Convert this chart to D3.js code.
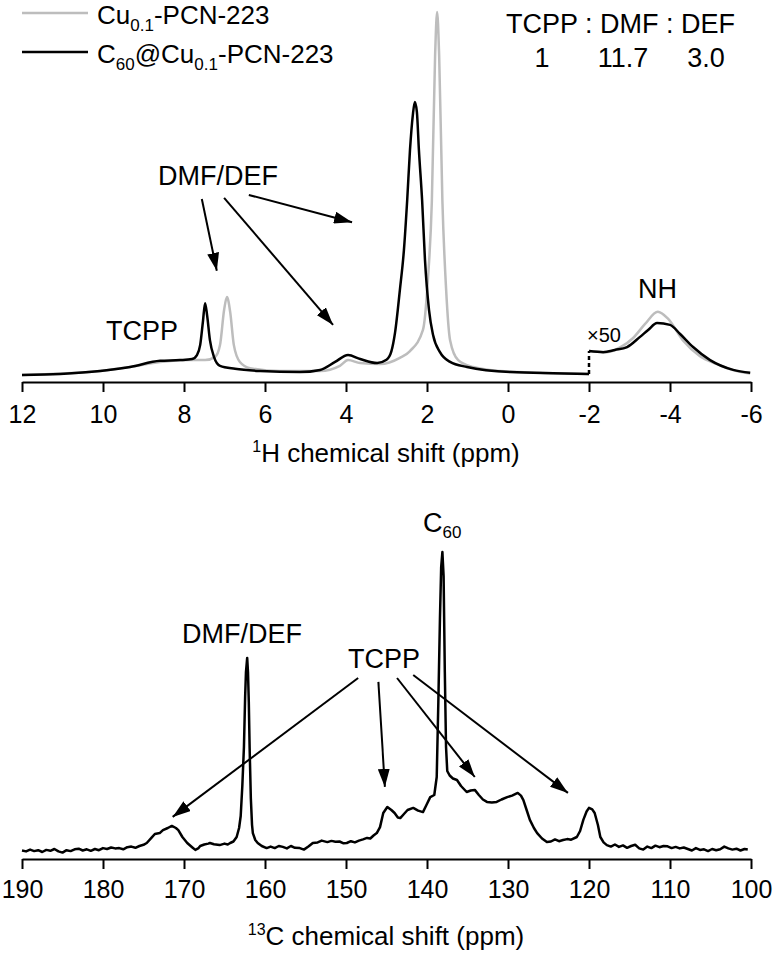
<!DOCTYPE html>
<html>
<head>
<meta charset="utf-8">
<script src="https://cdn.jsdelivr.net/npm/d3@7"></script>
<style>
  body { margin: 0; background: #fff; }
  svg { display: block; font-family: "Liberation Sans", Arial, sans-serif; }
</style>
</head>
<body>
<div id="chart"></div>
<script>
// 1H spectra, [ppm, intensity]; intensity scaled so the tallest grey peak is 100
const h1GreyMain = [
  [12.0, 0], [11.0, 0.4], [10.07, 1.1], [9.3, 2.3], [8.59, 3.6], [7.85, 4.1], [7.48, 4.1],
  [7.23, 5.0], [7.11, 8.3], [7.01, 17.9], [6.94, 21.5], [6.86, 17.4], [6.77, 8.3],
  [6.62, 3.6], [6.37, 1.9], [5.63, 1.1], [4.64, 1.1], [4.15, 2.5], [3.95, 4.1],
  [3.65, 3.3], [3.16, 3.0], [2.67, 4.7], [2.42, 6.6], [2.10, 12.4], [1.98, 26],
  [1.88, 48], [1.80, 88], [1.75, 100], [1.70, 88], [1.62, 48], [1.53, 24],
  [1.43, 9.6], [1.23, 4.1], [0.86, 2.2], [0.20, 1.1], [-0.8, 0.6], [-2.0, 0.3]
];
const h1GreyX50 = [
  [-2.0, 6.6], [-2.44, 6.3], [-2.8, 7.8], [-3.09, 10.2], [-3.38, 14.0], [-3.70, 17.4],
  [-3.95, 15.5], [-4.32, 9.5], [-4.74, 5.2], [-5.16, 3.0], [-5.6, 1.2], [-5.98, 0.4]
];
const h1BlackMain = [
  [12.0, 0], [11.06, 0.3], [10.07, 1.1], [9.33, 2.2], [8.59, 3.9], [8.10, 4.1],
  [7.80, 4.4], [7.68, 5.5], [7.60, 8.3], [7.53, 15], [7.48, 19.8], [7.43, 16.5],
  [7.36, 9.6], [7.26, 5.0], [7.11, 2.5], [6.74, 1.7], [6.12, 1.1], [5.14, 0.8],
  [4.64, 1.4], [4.27, 3.6], [3.95, 5.5], [3.65, 4.4], [3.23, 3.3], [3.0, 4.2],
  [2.88, 6.5], [2.79, 11.6], [2.67, 23.4], [2.57, 34.4], [2.49, 48], [2.42, 62], [2.35, 71.6],
  [2.30, 75.2], [2.25, 72.5], [2.20, 62], [2.12, 48], [2.05, 31.7], [1.95, 17.9],
  [1.85, 11], [1.68, 6.3], [1.43, 3.6], [1.01, 2.2], [-0.05, 0.8], [-2.0, 0.3]
];
const h1BlackX50 = [
  [-2.0, 6.6], [-2.35, 6.3], [-2.64, 6.9], [-2.94, 7.7], [-3.26, 10.5], [-3.46, 12.4],
  [-3.68, 14.3], [-4.0, 13.8], [-4.25, 11.3], [-4.57, 7.7], [-4.99, 4.1], [-5.56, 1.4],
  [-5.98, 0.6]
];

// 13C spectrum of C60@Cu0.1-PCN-223, [ppm, intensity]; C60 peak = 100
const c13Black = [
  [190.0, 0.5], [189.5, 0.2], [189.0, 0.8], [188.5, 0.3], [188.0, 0.6], [187.5, 0.0],
  [187.0, 0.7], [186.5, 0.4], [186.0, 1.0], [185.5, 0.2], [185.0, -0.2], [184.5, 0.6],
  [184.0, 0.3], [183.5, 0.9], [183.0, 1.1], [182.5, 0.5], [182.0, 0.9], [181.5, 0.4],
  [181.0, 1.0], [180.5, 0.6], [180.0, 1.3], [179.5, 1.0], [179.0, 1.5], [178.5, 1.2],
  [178.0, 1.3], [177.5, 0.9], [177.0, 1.6], [176.5, 1.8], [176.0, 1.4], [175.5, 2.0],
  [175.0, 2.4], [174.6, 3.0], [174.0, 4.8], [173.6, 6.0], [173.0, 6.3], [172.6, 7.3],
  [172.0, 8.0], [171.5, 8.7], [171.0, 8.0], [170.7, 7.3], [170.2, 5.0], [169.6, 3.0],
  [169.0, 1.6], [168.6, 0.7], [168.2, 1.3], [168.0, 2.0], [167.5, 2.5], [167.0, 2.8],
  [166.8, 3.0], [166.3, 2.6], [165.6, 2.3], [165.0, 2.8], [164.6, 2.5], [164.3, 3.0],
  [163.9, 3.5], [163.5, 5.0], [163.2, 8.0], [163.0, 12], [162.8, 22], [162.6, 35],
  [162.45, 52], [162.35, 60], [162.2, 64.7], [162.1, 60], [162.0, 50], [161.9, 35],
  [161.75, 18], [161.6, 9], [161.5, 6.3], [161.2, 4.0], [160.9, 3.0], [160.4, 2.0],
  [159.8, 1.3], [159.3, 1.8], [158.8, 1.3], [158.3, 2.0], [157.8, 1.7], [157.3, 1.2],
  [156.8, 2.0], [156.3, 1.4], [155.7, 1.3], [155.2, 0.8], [154.6, 1.9], [154.1, 3.0],
  [153.5, 3.2], [153.0, 3.8], [152.3, 3.3], [151.8, 3.7], [151.3, 3.4], [150.8, 3.5],
  [150.3, 2.9], [149.9, 3.0], [149.4, 3.6], [148.9, 3.2], [148.4, 3.8], [147.9, 4.2],
  [147.4, 4.7], [147.0, 4.5], [146.6, 5.5], [146.2, 6.3], [145.8, 8.3], [145.4, 13],
  [144.9, 15], [144.4, 14], [144.0, 13], [143.6, 11.5], [143.3, 11.3], [142.9, 12.5],
  [142.4, 14], [141.7, 14.7], [141.1, 13.8], [140.5, 13.3], [140.1, 15.5], [139.6, 18.3],
  [139.1, 19], [138.8, 25], [138.6, 50], [138.4, 78], [138.25, 95], [138.1, 100],
  [137.95, 92], [137.8, 60], [137.65, 35], [137.5, 27], [137.2, 25.5], [136.8, 24.5],
  [136.3, 24], [135.8, 22], [135.1, 20], [134.6, 20.5], [134.1, 20.7], [133.6, 19],
  [133.1, 17.5], [132.6, 16.7], [132.0, 16.5], [131.4, 16.7], [130.8, 17.5], [130.1, 18.3],
  [129.5, 18.8], [128.8, 19.7], [128.4, 18.8], [128.1, 17.3], [127.7, 14], [127.3, 10.7],
  [126.8, 8], [126.4, 6.3], [125.8, 4.5], [125.2, 3.3], [124.7, 3.5], [124.2, 4.2],
  [123.7, 3.6], [123.2, 4.0], [122.7, 4.3], [122.2, 4.1], [121.5, 5.0], [121.1, 7],
  [120.7, 10.7], [120.3, 13.5], [120.0, 14.7], [119.6, 14.2], [119.3, 13], [118.9, 9],
  [118.6, 5], [118.2, 3.2], [117.8, 2.3], [117.3, 1.8], [116.8, 2.5], [116.3, 1.7],
  [115.8, 2.2], [115.3, 1.4], [114.8, 2.0], [114.3, 2.4], [113.8, 1.2], [113.3, 0.8],
  [112.8, 1.8], [112.3, 1.3], [111.8, 2.1], [111.3, 1.6], [110.8, 2.0], [110.3, 1.9],
  [109.8, 1.3], [109.3, 1.7], [108.8, 1.2], [108.3, 1.5], [107.8, 1.0], [107.3, 0.5],
  [106.8, 1.3], [106.3, 0.7], [105.8, 0.9], [105.3, 0.3], [104.8, 1.0], [104.3, 0.6],
  [103.8, 0.9], [103.3, 1.8], [102.8, 1.2], [102.3, 0.8], [101.8, 1.1], [101.3, 0.5],
  [100.8, 1.0], [100.4, 0.8]
];

const h1Ticks = [12, 10, 8, 6, 4, 2, 0, -2, -4, -6];
const c13Ticks = [190, 180, 170, 160, 150, 140, 130, 120, 110, 100];
const legendLabels = [
  { main: "Cu", sub: "0.1", rest: "-PCN-223", color: "#bdbdbd" },
  { main: "C", sub: "60", mid: "@Cu", sub2: "0.1", rest: "-PCN-223", color: "#000" }
];
const ratioHeader = "TCPP : DMF : DEF";
const ratioValues = ["1", "11.7", "3.0"];

// arrows in data space: [fromPpm, fromI, toPpm, toI]
const h1Arrows = [
  [7.56, 48.5, 7.19, 28.7],
  [7.01, 48.8, 4.32, 13.8],
  [6.40, 49.6, 3.85, 42.1]
];
const c13Arrows = [
  [148.5, 58, 171.4, 11.7],
  [146.0, 56.7, 145.2, 21.7],
  [143.7, 58, 134.1, 25],
  [141.7, 59, 122.6, 19.7]
];

const W = 775, H = 955;
const svg = d3.select("#chart").append("svg").attr("width", W).attr("height", H);

const defs = svg.append("defs");
defs.append("marker")
  .attr("id", "head")
  .attr("markerUnits", "userSpaceOnUse")
  .attr("viewBox", "0 0 18 12")
  .attr("refX", 18).attr("refY", 6)
  .attr("markerWidth", 18).attr("markerHeight", 12)
  .attr("orient", "auto")
  .append("path").attr("d", "M0,0 L18,6 L0,12 Z").attr("fill", "#000");

const xH = d3.scaleLinear().domain([12, -6]).range([22, 751]);
const yH = d3.scaleLinear().domain([0, 100]).range([375, 12]);
const xC = d3.scaleLinear().domain([190, 100]).range([22, 751]);
const yC = d3.scaleLinear().domain([0, 100]).range([852, 552]);

const lineH = d3.line().x(d => xH(d[0])).y(d => yH(d[1])).curve(d3.curveMonotoneX);
const lineC = d3.line().x(d => xC(d[0])).y(d => yC(d[1]));

function drawAxis(scale, ticks, y, pad) {
  const g = svg.append("g")
    .attr("transform", `translate(0,${y})`)
    .call(d3.axisBottom(scale).tickValues(ticks).tickFormat(d => String(d))
      .tickSize(10).tickSizeOuter(0).tickPadding(pad));
  g.select(".domain").attr("stroke-width", 2);
  g.selectAll(".tick line").attr("stroke-width", 2);
  g.selectAll(".tick text")
    .attr("font-size", 25)
    .attr("font-family", "Liberation Sans, Arial, sans-serif")
    .attr("fill", "#000");
  return g;
}

function axisTitle(sup, rest, y) {
  const t = svg.append("text")
    .attr("x", 386).attr("y", y)
    .attr("text-anchor", "middle")
    .attr("font-size", 26);
  t.append("tspan").attr("font-size", 16).attr("dy", -10).text(sup);
  t.append("tspan").attr("dy", 10).text(rest);
}

// ---- 1H panel ----
drawAxis(xH, h1Ticks, 382, 13);
axisTitle("1", "H chemical shift (ppm)", 462);

const grey = "#bdbdbd";
[h1GreyMain, h1GreyX50].forEach(s => {
  svg.append("path").datum(s).attr("d", lineH)
    .attr("fill", "none").attr("stroke", grey).attr("stroke-width", 2.5);
});
[h1BlackMain, h1BlackX50].forEach(s => {
  svg.append("path").datum(s).attr("d", lineH)
    .attr("fill", "none").attr("stroke", "#000").attr("stroke-width", 2.5);
});
// ×50 break
svg.append("line")
  .attr("x1", xH(-2)).attr("x2", xH(-2))
  .attr("y1", yH(h1BlackMain[h1BlackMain.length - 1][1]))
  .attr("y2", yH(h1BlackX50[0][1]))
  .attr("stroke", "#000").attr("stroke-width", 2.5).attr("stroke-dasharray", "4,3");

svg.append("text").attr("x", 587).attr("y", 342).attr("font-size", 20).text("×50");
svg.append("text").attr("x", 638).attr("y", 298).attr("font-size", 27).text("NH");
svg.append("text").attr("x", 106).attr("y", 340).attr("font-size", 27).text("TCPP");
svg.append("text").attr("x", 218).attr("y", 185).attr("font-size", 27)
  .attr("text-anchor", "middle").text("DMF/DEF");

h1Arrows.forEach(a => {
  svg.append("line")
    .attr("x1", xH(a[0])).attr("y1", yH(a[1]))
    .attr("x2", xH(a[2])).attr("y2", yH(a[3]))
    .attr("stroke", "#000").attr("stroke-width", 2)
    .attr("marker-end", "url(#head)");
});

// legend
legendLabels.forEach((d, i) => {
  const y = 13 + i * 39;
  svg.append("line").attr("x1", 22).attr("x2", 88).attr("y1", y).attr("y2", y)
    .attr("stroke", d.color).attr("stroke-width", 2.5);
  const t = svg.append("text").attr("x", 97).attr("y", y + 11).attr("font-size", 26);
  t.append("tspan").text(d.main);
  t.append("tspan").attr("font-size", 17).attr("dy", 7).text(d.sub);
  if (d.mid) {
    t.append("tspan").attr("dy", -7).text(d.mid);
    t.append("tspan").attr("font-size", 17).attr("dy", 7).text(d.sub2);
  }
  t.append("tspan").attr("dy", -7).text(d.rest);
});

svg.append("text").attr("x", 506).attr("y", 33).attr("font-size", 27)
  .attr("xml:space", "preserve").text(ratioHeader);
const ratioX = [542, 623, 706];
ratioValues.forEach((v, i) => {
  svg.append("text").attr("x", ratioX[i]).attr("y", 67).attr("font-size", 27)
    .attr("text-anchor", "middle").text(v);
});

// ---- 13C panel ----
drawAxis(xC, c13Ticks, 859, 11);
axisTitle("13", "C chemical shift (ppm)", 945);

svg.append("path").datum(c13Black).attr("d", lineC)
  .attr("fill", "none").attr("stroke", "#000").attr("stroke-width", 2.5)
  .attr("stroke-linejoin", "round");

c13Arrows.forEach(a => {
  svg.append("line")
    .attr("x1", xC(a[0])).attr("y1", yC(a[1]))
    .attr("x2", xC(a[2])).attr("y2", yC(a[3]))
    .attr("stroke", "#000").attr("stroke-width", 2)
    .attr("marker-end", "url(#head)");
});

svg.append("text").attr("x", 182).attr("y", 643).attr("font-size", 27).text("DMF/DEF");
svg.append("text").attr("x", 348).attr("y", 668).attr("font-size", 27).text("TCPP");
const c60 = svg.append("text").attr("x", 423).attr("y", 532).attr("font-size", 27);
c60.append("tspan").text("C");
c60.append("tspan").attr("font-size", 17).attr("dy", 6).text("60");
</script>
</body>
</html>
